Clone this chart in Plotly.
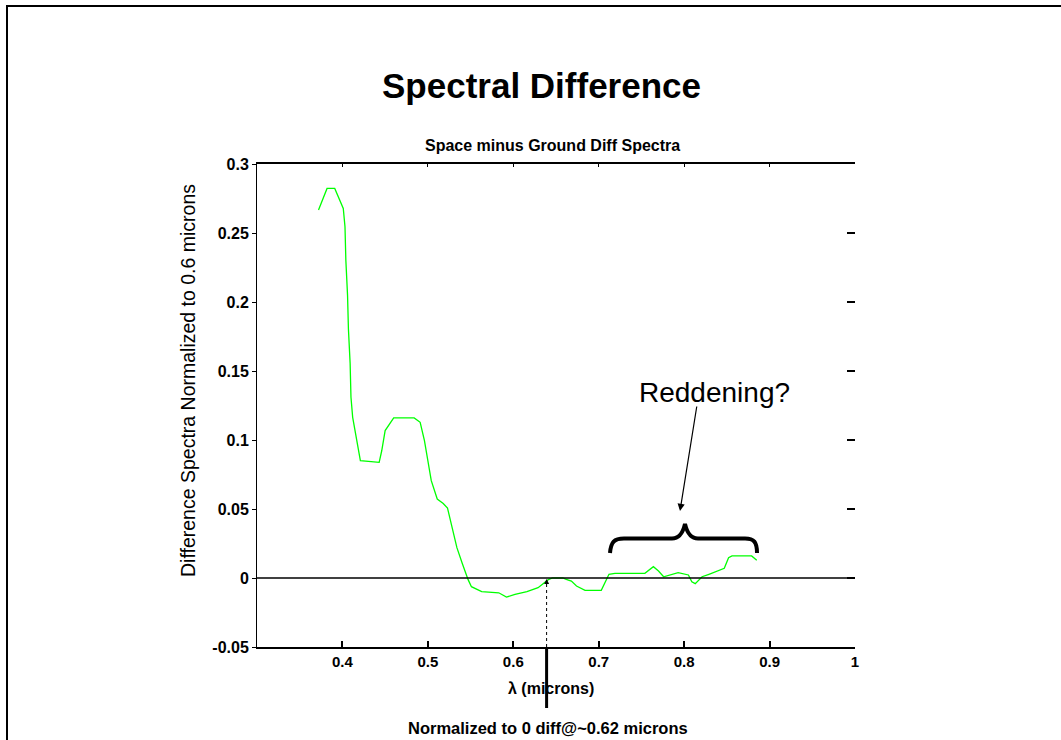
import plotly.graph_objects as go

# ---- data ----
wavelength = [0.372, 0.382, 0.391, 0.401, 0.403, 0.404, 0.406, 0.407, 0.409, 0.410,
              0.412, 0.414, 0.418, 0.421, 0.443, 0.446, 0.450, 0.455, 0.460, 0.484,
              0.491, 0.496, 0.500, 0.504, 0.511, 0.518, 0.523, 0.528, 0.534, 0.540,
              0.547, 0.551, 0.563, 0.583, 0.592, 0.602, 0.616, 0.629, 0.641, 0.646,
              0.651, 0.658, 0.662, 0.668, 0.674, 0.684, 0.703, 0.707, 0.712, 0.719,
              0.754, 0.764, 0.770, 0.776, 0.784, 0.793, 0.805, 0.809, 0.813, 0.821,
              0.829, 0.840, 0.847, 0.852, 0.856, 0.879, 0.885]
diff_spectra = [0.2666, 0.2823, 0.2823, 0.2678, 0.2545, 0.2303, 0.2048, 0.1806, 0.1557, 0.1310,
                0.1164, 0.1092, 0.0971, 0.0850, 0.0838, 0.0922, 0.1068, 0.1116, 0.1160, 0.1160,
                0.1128, 0.0995, 0.0850, 0.0705, 0.0572, 0.0540, 0.0506, 0.0366, 0.0220, 0.0111,
                -0.0010, -0.0063, -0.0099, -0.0107, -0.0138, -0.0119, -0.0099, -0.0070, -0.0012, 0.0,
                0.0, 0.0, -0.0010, -0.0022, -0.0058, -0.0089, -0.0089, -0.0034, 0.0027, 0.0034,
                0.0034, 0.0082, 0.0051, 0.0009, 0.0022, 0.0039, 0.0022, -0.0027, -0.0041, 0.0009,
                0.0027, 0.0051, 0.0070, 0.0147, 0.0160, 0.0160, 0.0128]

x_tick_vals = [0.4, 0.5, 0.6, 0.7, 0.8, 0.9, 1.0]
x_tick_text = ["0.4", "0.5", "0.6", "0.7", "0.8", "0.9", "1"]
y_tick_vals = [-0.05, 0, 0.05, 0.1, 0.15, 0.2, 0.25, 0.3]
y_tick_text = ["-0.05", "0", "0.05", "0.1", "0.15", "0.2", "0.25", "0.3"]
x_range = [0.3, 1.0]
y_range = [-0.05, 0.3]
norm_wavelength = 0.639

title_text = "Spectral Difference"
subtitle_text = "Space minus Ground Diff Spectra"
y_title_text = "Difference Spectra Normalized to 0.6 microns"
x_title_text = "λ (microns)"
note_text = "Normalized to 0 diff@~0.62 microns"
callout_text = "Reddening?"

# ---- layout geometry (pixels) ----
W, H = 1061, 740
L, R, T, B = 257, 855, 164, 647
FONT = "Liberation Sans, Arial, sans-serif"


def px(p):
    return (p - L) / (R - L)


def py(p):
    return (B - p) / (B - T)


def dx(p):
    return x_range[0] + (p - L) / (R - L) * (x_range[1] - x_range[0])


def dy(p):
    return y_range[0] + (B - p) / (B - T) * (y_range[1] - y_range[0])


fig = go.Figure()
fig.add_trace(go.Scatter(x=wavelength, y=diff_spectra, mode="lines",
                         line=dict(color="#00ff00", width=1.3),
                         showlegend=False, hoverinfo="skip"))
# invisible trace to carry the top / right tick axes
fig.add_trace(go.Scatter(x=[x_range[0]], y=[y_range[0]], mode="markers",
                         marker=dict(opacity=0), yaxis="y2", xaxis="x2",
                         showlegend=False, hoverinfo="skip"))

fig.update_layout(
    width=W, height=H, autosize=False,
    margin=dict(l=L, r=W - R, t=T, b=H - B, pad=0),
    paper_bgcolor="white", plot_bgcolor="white",
    font=dict(family=FONT, color="black"),
    xaxis=dict(range=x_range, tickvals=x_tick_vals, ticktext=x_tick_text,
               ticks="inside", ticklen=6, tickwidth=2, tickcolor="black",
               showline=True, linewidth=2, linecolor="black",
               showgrid=False, zeroline=False,
               tickfont=dict(size=15, family=FONT, weight="bold", color="black")),
    xaxis2=dict(range=x_range, tickvals=x_tick_vals, overlaying="x", side="top",
                ticks="inside", ticklen=3, tickwidth=1, tickcolor="black",
                showline=True, linewidth=2, linecolor="black",
                showticklabels=False, showgrid=False, zeroline=False),
    yaxis=dict(range=y_range, tickvals=y_tick_vals, ticktext=y_tick_text,
               ticks="outside", ticklen=4, tickwidth=1, tickcolor="black",
               showline=True, linewidth=1, linecolor="black",
               showgrid=False, zeroline=False,
               tickfont=dict(size=16, family=FONT, weight="bold", color="black")),
    yaxis2=dict(range=y_range, tickvals=y_tick_vals, overlaying="y", side="right",
                ticks="inside", ticklen=8, tickwidth=2, tickcolor="black",
                showline=False, showticklabels=False, showgrid=False, zeroline=False),
)

shapes = []
# slide frame
shapes.append(dict(type="rect", xref="paper", yref="paper",
                   x0=px(7), y0=py(760), x1=px(1080), y1=py(6),
                   line=dict(color="black", width=2), layer="above"))
# zero line
shapes.append(dict(type="line", xref="paper", yref="y", x0=0, x1=1, y0=0, y1=0,
                   line=dict(color="black", width=1.3), layer="above"))
# dotted marker at normalization wavelength
shapes.append(dict(type="line", xref="x", yref="y", x0=norm_wavelength, x1=norm_wavelength,
                   y0=y_range[0], y1=dy(583),
                   line=dict(color="black", width=1, dash="dot"), layer="above"))
# thick tick below axis
shapes.append(dict(type="line", xref="x", yref="paper", x0=norm_wavelength, x1=norm_wavelength,
                   y0=0, y1=py(708), line=dict(color="black", width=3), layer="above"))
# curly brace over the reddening region
brace = (f"M {dx(610)},{dy(553)} "
         f"C {dx(611)},{dy(542)} {dx(614)},{dy(538.5)} {dx(624)},{dy(538.5)} "
         f"L {dx(672)},{dy(538.5)} "
         f"C {dx(680)},{dy(538.5)} {dx(683)},{dy(532)} {dx(685)},{dy(524)} "
         f"C {dx(687)},{dy(532)} {dx(690)},{dy(538.5)} {dx(698)},{dy(538.5)} "
         f"L {dx(745)},{dy(538.5)} "
         f"C {dx(754)},{dy(538.5)} {dx(757)},{dy(542)} {dx(757)},{dy(553)}")
shapes.append(dict(type="path", xref="x", yref="y", path=brace,
                   line=dict(color="black", width=4), layer="above"))
fig.update_layout(shapes=shapes)

ann = []
ann.append(dict(text=title_text, xref="paper", yref="paper", x=px(541), y=py(85),
                showarrow=False, xanchor="center", yanchor="middle",
                font=dict(size=35, family=FONT, weight="bold", color="black")))
ann.append(dict(text=subtitle_text, xref="paper", yref="paper", x=px(552), y=py(145),
                showarrow=False, xanchor="center", yanchor="middle",
                font=dict(size=16, family=FONT, weight="bold", color="black")))
ann.append(dict(text=y_title_text, xref="paper", yref="paper", x=px(188), y=py(381),
                showarrow=False, xanchor="center", yanchor="middle", textangle=-90,
                font=dict(size=19.5, family=FONT, color="black")))
ann.append(dict(text=x_title_text, xref="paper", yref="paper", x=px(551), y=py(688),
                showarrow=False, xanchor="center", yanchor="middle",
                font=dict(size=16, family=FONT, weight="bold", color="black")))
ann.append(dict(text=note_text, xref="paper", yref="paper", x=px(548), y=py(728),
                showarrow=False, xanchor="center", yanchor="middle",
                font=dict(size=16.5, family=FONT, weight="bold", color="black")))
ann.append(dict(text=callout_text, xref="paper", yref="paper", x=px(714), y=py(392),
                showarrow=False, xanchor="center", yanchor="middle",
                font=dict(size=28, family=FONT, color="black")))
# callout arrow
ann.append(dict(text="", x=dx(680), y=dy(511), xref="x", yref="y",
                ax=17, ay=-106, axref="pixel", ayref="pixel",
                showarrow=True, arrowhead=2, arrowsize=1.2, arrowwidth=1.2,
                arrowcolor="black"))
# small arrowhead at normalization point
ann.append(dict(text="", x=norm_wavelength, y=dy(579), xref="x", yref="y",
                ax=0, ay=6, axref="pixel", ayref="pixel",
                showarrow=True, arrowhead=2, arrowsize=1, arrowwidth=1,
                arrowcolor="black"))
fig.update_layout(annotations=ann)

fig.write_html("out.html", config={"displayModeBar": False},
               post_script="document.body.style.margin='0';document.body.style.overflow='hidden';")
